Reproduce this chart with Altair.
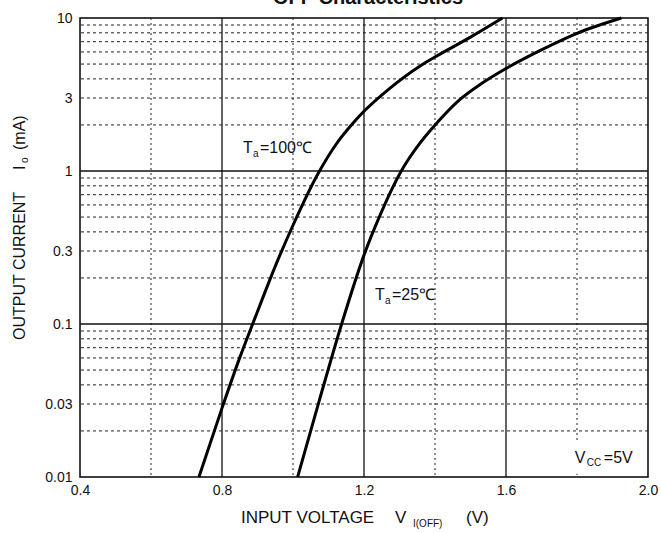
import altair as alt
import pandas as pd

FONT = "Liberation Sans"

# ---- data ----
v_100 = [0.735, 0.80, 0.85, 0.893, 0.954, 1.001, 1.07, 1.12, 1.17, 1.20, 1.27, 1.357, 1.40, 1.50, 1.59]
i_100 = [0.01, 0.0282, 0.0603, 0.1096, 0.251, 0.447, 0.955, 1.479, 2.065, 2.455, 3.43, 4.84, 5.56, 7.5, 10.0]

v_25 = [1.013, 1.074, 1.137, 1.20, 1.245, 1.305, 1.357, 1.40, 1.469, 1.53, 1.60, 1.694, 1.80, 1.925]
i_25 = [0.01, 0.0316, 0.10, 0.282, 0.513, 1.0, 1.514, 1.995, 2.917, 3.715, 4.677, 6.095, 7.943, 10.0]

x_ticks = [0.4, 0.8, 1.2, 1.6, 2.0]
y_ticks = [0.01, 0.03, 0.1, 0.3, 1, 3, 10]

x_major = [0.8, 1.2, 1.6]
x_minor = [0.6, 1.0, 1.4, 1.8]
y_major = [0.1, 1]
y_minor = [0.02, 0.03, 0.04, 0.05, 0.06, 0.07, 0.08, 0.09,
           0.2, 0.3, 0.4, 0.5, 0.6, 0.7, 0.8, 0.9,
           2, 3, 4, 5, 6, 7, 8, 9]

curves = pd.DataFrame({
    "v": v_100 + v_25,
    "i": i_100 + i_25,
    "series": ["Ta=100"] * len(v_100) + ["Ta=25"] * len(v_25),
})

xs = alt.Scale(domain=[0.4, 2.0], nice=False, zero=False)
ys = alt.Scale(type="log", domain=[0.01, 10], nice=False)

W, H = 568, 459

ax_x = alt.Axis(
    values=x_ticks, format=".1f", title=None, grid=False, ticks=False, domain=False,
    labelPadding=6, labelFlush=False, labelFontSize=14, labelFont=FONT, labelColor="#111")
ax_y = alt.Axis(
    values=y_ticks, format="~g", title=None, grid=False, ticks=False, domain=False,
    labelPadding=8, labelFlush=False, labelFontSize=14, labelFont=FONT, labelColor="#111")

vminor = alt.Chart(pd.DataFrame({"v": x_minor})).mark_rule(
    color="#222", strokeWidth=1, strokeDash=[2, 3]).encode(
    x=alt.X("v:Q", scale=xs, axis=ax_x))
hminor = alt.Chart(pd.DataFrame({"i": y_minor})).mark_rule(
    color="#222", strokeWidth=1, strokeDash=[3, 3]).encode(
    y=alt.Y("i:Q", scale=ys, axis=ax_y))
vmajor = alt.Chart(pd.DataFrame({"v": x_major})).mark_rule(
    color="#111", strokeWidth=1.3).encode(
    x=alt.X("v:Q", scale=xs, axis=ax_x))
hmajor = alt.Chart(pd.DataFrame({"i": y_major})).mark_rule(
    color="#111", strokeWidth=1.3).encode(
    y=alt.Y("i:Q", scale=ys, axis=ax_y))

lines = alt.Chart(curves).mark_line(
    color="black", strokeWidth=3, interpolate="monotone").encode(
    x=alt.X("v:Q", scale=xs, axis=ax_x),
    y=alt.Y("i:Q", scale=ys, axis=ax_y),
    detail="series:N")

one = pd.DataFrame({"_": [0]})


def dtext(txt, xv, yv, size=16, dx=0, dy=0):
    return alt.Chart(one).mark_text(
        text=txt, font=FONT, fontSize=size, color="#111", align="left",
        baseline="middle", dx=dx, dy=dy).encode(
        x=alt.X(datum=xv, scale=xs, axis=ax_x),
        y=alt.Y(datum=yv, scale=ys, axis=ax_y))


def ptext(txt, px, py, size=16, angle=0, align="left", weight="normal"):
    kw = {}
    if angle:
        kw["angle"] = angle
    return alt.Chart(one).mark_text(
        text=txt, font=FONT, fontSize=size, color="#111", align=align,
        baseline="middle", fontWeight=weight, **kw).encode(
        x=alt.value(px), y=alt.value(py))


whitebox = alt.Chart(one).mark_rect(color="white").encode(
    x=alt.X(datum=1.78, scale=xs, axis=ax_x), x2=alt.X2(datum=1.983),
    y=alt.Y(datum=0.0167, scale=ys, axis=ax_y), y2=alt.Y2(datum=0.0105))

annots = [
    dtext("T", 0.859, 1.41), dtext("a", 0.859, 1.41, size=10, dx=10, dy=6),
    dtext("=100℃", 0.859, 1.41, dx=17),
    dtext("T", 1.231, 0.154), dtext("a", 1.231, 0.154, size=10, dx=10, dy=6),
    dtext("=25℃", 1.231, 0.154, dx=17),
    dtext("V", 1.794, 0.0133), dtext("CC", 1.794, 0.0133, size=10, dx=12, dy=5),
    dtext("=5V", 1.794, 0.0133, dx=29),
]

titles = [
    alt.Chart(one).mark_text(text="OFF Characteristics", font=FONT, fontSize=20,
                             fontWeight="bold", color="#111", align="center",
                             baseline="alphabetic").encode(
        x=alt.value(288), y=alt.value(-14)),
    ptext("INPUT VOLTAGE", 161, 500, size=17),
    ptext("V", 315, 500, size=17),
    ptext("I(OFF)", 333, 506, size=10),
    ptext("(V)", 386, 500, size=17),
    ptext("OUTPUT CURRENT", -60, 322, size=16, angle=270),
    ptext("I", -60, 152, size=16, angle=270),
    ptext("o", -55, 145, size=10, angle=270),
    ptext("(mA)", -60, 132, size=16, angle=270),
]

chart = alt.layer(
    vminor, hminor, vmajor, hmajor, lines, whitebox, *annots, *titles
).properties(
    width=W, height=H,
    padding={"left": 80, "top": 18, "right": 13, "bottom": 56},
    autosize=alt.AutoSizeParams(type="none"),
    background="white",
).configure_view(stroke="black", strokeWidth=1.5)

chart.save("out.html", embed_options={"renderer": "svg", "actions": False})
